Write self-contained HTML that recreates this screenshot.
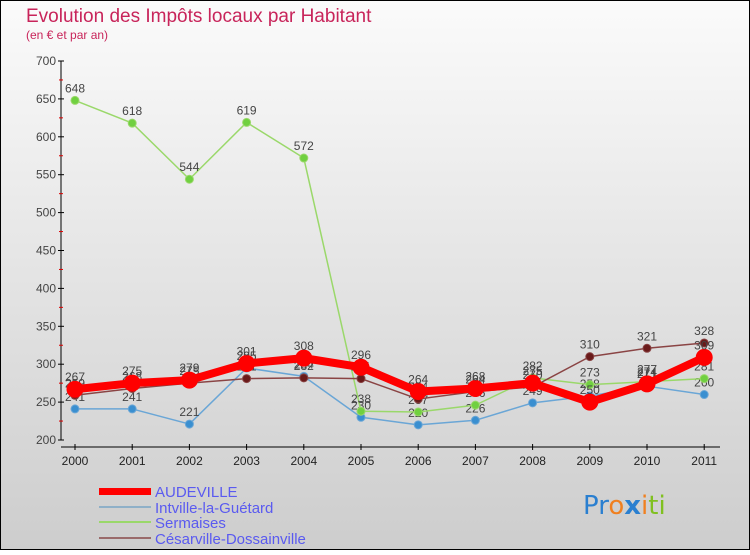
<!DOCTYPE html>
<html><head><meta charset="utf-8"><style>
html,body{margin:0;padding:0}
body{width:750px;height:550px;overflow:hidden;font-family:"Liberation Sans",sans-serif}
</style></head><body>
<svg id="chart" width="750" height="550" xmlns="http://www.w3.org/2000/svg" font-family="Liberation Sans, sans-serif">
<defs><linearGradient id="bg" x1="0" y1="0" x2="0" y2="1"><stop offset="0" stop-color="#fbfbfb"/><stop offset="1" stop-color="#cdcdcd"/></linearGradient></defs>
<rect x="0" y="0" width="750" height="550" fill="url(#bg)" stroke="#000" stroke-width="2"/>
<text x="26" y="22" font-size="19" fill="#c8245a">Evolution des Impôts locaux par Habitant</text>
<text x="26" y="39" font-size="12" fill="#c8245a">(en € et par an)</text>
<g id="axes"></g><g id="series"></g>
<g font-size="15" fill="#5a5af0">
<rect x="99" y="488" width="52" height="7" fill="#f00"/>
<text x="155" y="497">AUDEVILLE</text>
<line x1="99" x2="151" y1="507" y2="507" stroke="#8fb0c8" stroke-width="2"/>
<text x="155" y="513">Intville-la-Guétard</text>
<line x1="99" x2="151" y1="522" y2="522" stroke="#9ad86a" stroke-width="2"/>
<text x="155" y="528">Sermaises</text>
<line x1="99" x2="151" y1="538" y2="538" stroke="#9a6a6a" stroke-width="2"/>
<text x="155" y="544">Césarville-Dossainville</text>
</g>
<g font-size="26" font-family="DejaVu Sans, sans-serif">
<text x="583" y="514"><tspan fill="#2a7fd0">Pr</tspan><tspan fill="#f08020">o</tspan><tspan fill="#2a7fd0" font-weight="bold">x</tspan><tspan fill="#f08020">i</tspan><tspan fill="#80c020">ti</tspan></text>
</g>
</svg>
<script>
const years=["2000","2001","2002","2003","2004","2005","2006","2007","2008","2009","2010","2011"];
const yTicks=[200,250,300,350,400,450,500,550,600,650,700];
const audeville=[267,275,279,301,308,296,264,268,275,250,274,309];
const intville=[241,241,221,295,284,230,220,226,249,258,271,260];
const sermaises=[648,618,544,619,572,238,237,246,282,273,277,281];
const cesarville=[259,268,275,281,282,281,254,264,270,310,321,328];
const NS="http://www.w3.org/2000/svg";
const X=i=>75+i*57.2;
const Y=v=>440-(v-200)*0.758;
function mk(parent,tag,attrs){const e=document.createElementNS(NS,tag);for(const k in attrs)e.setAttribute(k,attrs[k]);parent.appendChild(e);return e;}
const ax=document.getElementById('axes');
let a=mk(ax,'line',{x1:61,x2:61,y1:Y(700),y2:Y(200),stroke:'#000','stroke-width':1});


yTicks.forEach(t=>{
  mk(ax,'line',{x1:58,x2:64,y1:Y(t),y2:Y(t),stroke:'#000'});
  if(t<700){const m=mk(ax,'line',{x1:59,x2:63,y1:Y(t+25),y2:Y(t+25),stroke:'#d00'});}
  const tx=mk(ax,'text',{x:56,y:Y(t)+4,'text-anchor':'end','font-size':12,fill:'#444'});
  tx.textContent=t;
  
  
});
let b=mk(ax,'line',{x1:61,x2:720,y1:Y(200)+7,y2:Y(200)+7,stroke:'#000'});


years.forEach((yr,i)=>{
  mk(ax,'line',{x1:X(i),x2:X(i),y1:Y(200)+4,y2:Y(200)+10,stroke:'#000'});
  const tx=mk(ax,'text',{x:X(i),y:465,'text-anchor':'middle','font-size':12,fill:'#222'});
  tx.textContent=yr;
  
  
});
const sg=document.getElementById('series');
function draw(data,name,color,w,r,fill){
  const g=mk(sg,'g',{});
  
  
  const p=mk(g,'polyline',{points:data.map((v,i)=>X(i)+','+Y(v)).join(' '),fill:'none',stroke:color,'stroke-width':w,'stroke-linejoin':'round'});
  
  
  data.forEach((v,i)=>{
    const c=mk(g,'circle',{cx:X(i),cy:Y(v),r:r,fill:fill,stroke:color,'stroke-width':1});
    
    
    const t=mk(g,'text',{x:X(i),y:Y(v)-8,'text-anchor':'middle','font-size':12,fill:'#444'});
    t.textContent=v;
    
    
  });
}
draw(intville,'intville','#6aa6d6',1.5,4,'#3a8fd0');
draw(sermaises,'sermaises','#9ad86a',1.5,4,'#70d040');
draw(cesarville,'cesarville','#8a4444',1.5,4,'#6a1a1a');
draw(audeville,'audeville','#f00',8,8,'#f00');
</script>
</body></html>
